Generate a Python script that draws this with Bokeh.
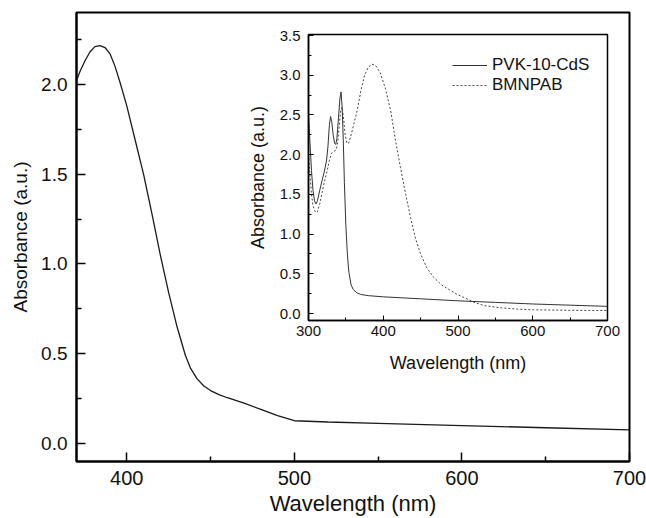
from bokeh.plotting import figure
from bokeh.models import FixedTicker, PrintfTickFormatter, Legend, LegendItem
from bokeh.embed import file_html
from bokeh.resources import INLINE

# ---------------- data ----------------
main_wl = [370, 372, 375, 378, 381, 384, 387, 390, 393, 396, 400, 405, 410, 415, 420,
           425, 430, 435, 438, 442, 446, 450, 455, 460, 470, 480, 490, 500, 520, 550, 600, 650, 700]
main_abs = [2.02, 2.07, 2.13, 2.18, 2.21, 2.215, 2.205, 2.17, 2.10, 2.01, 1.88, 1.69, 1.50, 1.28, 1.05,
            0.84, 0.65, 0.49, 0.42, 0.36, 0.32, 0.295, 0.272, 0.255, 0.225, 0.19, 0.155, 0.127, 0.12, 0.112,
            0.10, 0.088, 0.076]

pvk_wl = [300, 302, 304, 306, 308, 310, 312, 315, 318, 321, 324, 326, 328, 329.5, 331, 333, 335, 336.5,
          338, 340, 342, 343.5, 345, 346.5, 348, 350, 352, 354, 357, 360, 365, 370, 380, 400, 450,
          500, 550, 600, 650, 700]
pvk_abs = [2.5, 2.15, 1.8, 1.55, 1.42, 1.38, 1.42, 1.55, 1.67, 1.78, 1.92, 2.1, 2.38, 2.48, 2.42, 2.25, 2.14, 2.13,
           2.2, 2.45, 2.7, 2.79, 2.6, 2.2, 1.65, 1.1, 0.75, 0.52, 0.36, 0.3, 0.26, 0.24, 0.225, 0.21, 0.185,
           0.16, 0.14, 0.12, 0.105, 0.09]

bm_wl = [300, 302, 304, 306, 308, 310, 312, 315, 318, 321, 325, 328, 331, 334, 337, 339, 341, 343, 345,
         347, 349, 351.5, 354, 357, 361, 365, 370, 375, 380, 385, 390, 396, 403, 410, 416, 423, 430,
         436.5, 443, 450, 458, 467, 478, 490, 500, 512, 521, 535, 557, 580, 601, 650, 700]
bm_abs = [2.0, 1.75, 1.5, 1.36, 1.3, 1.27, 1.28, 1.38, 1.51, 1.65, 1.80, 1.93, 2.02, 2.04, 2.06, 2.15, 2.35, 2.55, 2.6,
          2.45, 2.25, 2.14, 2.15, 2.25, 2.40, 2.55, 2.80, 3.00, 3.10, 3.14, 3.12, 3.03, 2.83, 2.55, 2.2, 1.84, 1.5,
          1.21, 0.95, 0.75, 0.58, 0.46, 0.36, 0.29, 0.235, 0.185, 0.142, 0.10, 0.072, 0.055, 0.047, 0.04, 0.038]

main_xticks = [400, 500, 600, 700]
main_xminor = [450, 550, 650]
main_yticks = [0.0, 0.5, 1.0, 1.5, 2.0]
main_yminor = [0.25, 0.75, 1.25, 1.75, 2.25]

inset_xticks = [300, 400, 500, 600, 700]
inset_xminor = [350, 450, 550, 650]
inset_yticks = [0.0, 0.5, 1.0, 1.5, 2.0, 2.5, 3.0, 3.5]
inset_yminor = [0.25, 0.75, 1.25, 1.75, 2.25, 2.75, 3.25]

series_labels = ["PVK-10-CdS", "BMNPAB"]
x_title = "Wavelength (nm)"
y_title = "Absorbance (a.u.)"

FONT = "Liberation Sans"

# ---------------- main figure ----------------
p = figure(width=646, height=518, x_range=(370, 700), y_range=(-0.1, 2.4),
           output_backend="svg", toolbar_location=None,
           min_border_left=76, min_border_right=17, min_border_top=12, min_border_bottom=57,
           styles={"position": "absolute", "left": "0px", "top": "0px"})
p.grid.visible = False
p.outline_line_color = "black"
p.outline_line_width = 2
p.background_fill_color = "white"
p.border_fill_color = "white"

p.xaxis.ticker = FixedTicker(ticks=main_xticks, minor_ticks=main_xminor)
p.yaxis.ticker = FixedTicker(ticks=main_yticks, minor_ticks=main_yminor)
p.xaxis.formatter = PrintfTickFormatter(format="%d")
p.yaxis.formatter = PrintfTickFormatter(format="%.1f")
for ax in (p.xaxis, p.yaxis):
    ax.axis_line_width = 2
    ax.axis_line_color = "black"
    ax.major_tick_in = 9
    ax.major_tick_out = 0
    ax.minor_tick_in = 5
    ax.minor_tick_out = 0
    ax.major_tick_line_width = 1.5
    ax.minor_tick_line_width = 1.5
    ax.major_tick_line_color = "black"
    ax.minor_tick_line_color = "black"
    ax.major_label_text_font = FONT
    ax.major_label_text_color = "#111111"
    ax.axis_label_text_font = FONT
    ax.axis_label_text_font_style = "normal"
    ax.axis_label_text_color = "#111111"
p.xaxis.major_label_text_font_size = "20px"
p.yaxis.major_label_text_font_size = "19px"
p.xaxis.major_label_standoff = 9
p.yaxis.major_label_standoff = 9
p.xaxis.axis_label = x_title
p.xaxis.axis_label_text_font_size = "22px"
p.xaxis.axis_label_standoff = 3
p.yaxis.axis_label = y_title
p.yaxis.axis_label_text_font_size = "19px"
p.yaxis.axis_label_standoff = 7

p.line(main_wl, main_abs, line_color="#1a1a1a", line_width=1.3)

# ---------------- inset figure ----------------
q = figure(width=397, height=366, x_range=(300, 700), y_range=(-0.088, 3.513),
           output_backend="svg", toolbar_location=None,
           min_border_left=78, min_border_right=20, min_border_top=20, min_border_bottom=60,
           styles={"position": "absolute", "left": "230px", "top": "14px"})
q.grid.visible = False
q.outline_line_color = "black"
q.outline_line_width = 1.5
q.background_fill_color = "white"
q.border_fill_alpha = 0

q.xaxis.ticker = FixedTicker(ticks=inset_xticks, minor_ticks=inset_xminor)
q.yaxis.ticker = FixedTicker(ticks=inset_yticks, minor_ticks=inset_yminor)
q.xaxis.formatter = PrintfTickFormatter(format="%d")
q.yaxis.formatter = PrintfTickFormatter(format="%.1f")
for ax in (q.xaxis, q.yaxis):
    ax.axis_line_width = 1.5
    ax.axis_line_color = "black"
    ax.major_tick_in = 5
    ax.major_tick_out = 0
    ax.minor_tick_in = 3
    ax.minor_tick_out = 0
    ax.major_tick_line_color = "black"
    ax.minor_tick_line_color = "black"
    ax.major_label_text_font = FONT
    ax.major_label_text_font_size = "15px"
    ax.major_label_text_color = "#111111"
    ax.axis_label_text_font = FONT
    ax.axis_label_text_font_size = "18px"
    ax.axis_label_text_font_style = "normal"
    ax.axis_label_text_color = "#111111"
q.xaxis.axis_label_standoff = 14
q.yaxis.axis_label_standoff = 9
q.xaxis.major_label_standoff = 5
q.yaxis.major_label_standoff = 8
q.xaxis.axis_label = x_title
q.yaxis.axis_label = y_title

r1 = q.line(pvk_wl, pvk_abs, line_color="#333333", line_width=1)
r2 = q.line(bm_wl, bm_abs, line_color="#444444", line_width=1, line_dash="2 2")

legend = Legend(items=[LegendItem(label=series_labels[0], renderers=[r1]),
                       LegendItem(label=series_labels[1], renderers=[r2])],
                location=(144, 225), padding=0, margin=0, spacing=-3,
                glyph_width=35, glyph_height=16, label_height=16, label_standoff=5,
                label_text_font=FONT, label_text_font_size="17px", label_text_color="#111111",
                border_line_color=None, background_fill_alpha=0)
q.add_layout(legend)

open("out.html", "w").write(file_html([p, q], INLINE))
